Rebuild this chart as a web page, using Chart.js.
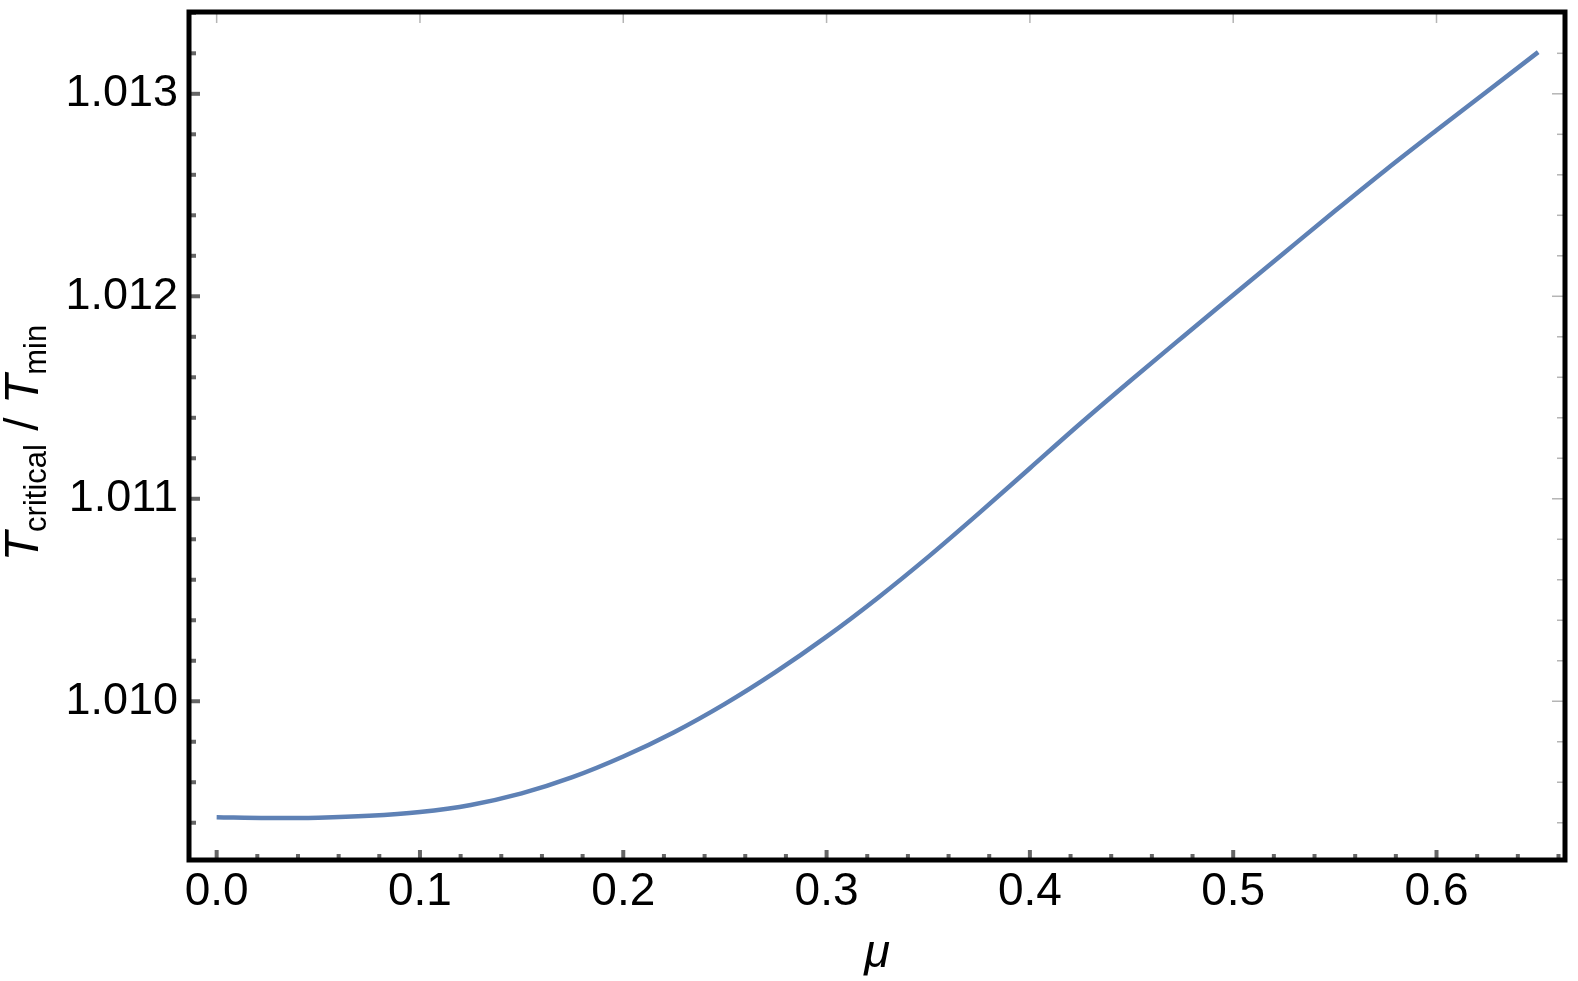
<!DOCTYPE html>
<html>
<head>
<meta charset="utf-8">
<script src="https://cdn.jsdelivr.net/npm/chart.js@4.4.1/dist/chart.umd.min.js"></script>
<style>
html,body{margin:0;padding:0;background:#fff;overflow:hidden}
#c{display:block}
</style>
</head>
<body>
<canvas id="c" width="1578" height="981"></canvas>
<script>
// ---- data ----
const mu = [0.000, 0.025, 0.050, 0.075, 0.100, 0.125, 0.150, 0.175, 0.200, 0.225,
            0.250, 0.275, 0.300, 0.325, 0.350, 0.375, 0.400, 0.425, 0.450, 0.475,
            0.500, 0.525, 0.550, 0.575, 0.600, 0.625, 0.650];
const tRatio = [1.009427, 1.009423, 1.009425, 1.009434, 1.009453, 1.009488, 1.009545, 1.009625, 1.009727, 1.009847,
                1.009987, 1.010145, 1.010319, 1.010509, 1.010713, 1.010929, 1.011151, 1.011373, 1.011588, 1.011798,
                1.012006, 1.012214, 1.012421, 1.012624, 1.012820, 1.013013, 1.013206];
const xTickLabels = ['0.0', '0.1', '0.2', '0.3', '0.4', '0.5', '0.6'];
const yTickLabels = ['1.010', '1.011', '1.012', '1.013'];
const xTitle = 'μ';
const yTitleParts = ['T', 'critical', ' / ', 'T', 'min'];

const LINE_COLOR = '#5E81B5';
const FONT = "'Liberation Sans', Arial, Helvetica, sans-serif";

function isMajorX(v) { return Math.round(v * 100) % 10 === 0; }
function isMajorY(v) { return Math.round(v * 10000) % 10 === 0; }

const framePlugin = {
  id: 'frame',
  afterDatasetsDraw(chart) {
    const { ctx, chartArea: a, scales: { x, y } } = chart;
    ctx.save();
    x.ticks.forEach(t => {
      const px = x.getPixelForValue(t.value);
      const major = isMajorX(t.value);
      const len = major ? 10 : 6;
      ctx.fillStyle = '#666666';
      ctx.fillRect(px - 2, a.bottom - len, 4, len);
      if (major) {
        ctx.fillStyle = '#b5b5b5';
        ctx.fillRect(px - 0.75, a.top, 1.5, 11);
      }
    });
    y.ticks.forEach(t => {
      const py = y.getPixelForValue(t.value);
      const major = isMajorY(t.value);
      ctx.fillStyle = '#666666';
      ctx.fillRect(a.left, py - 2, major ? 11 : 7, 4);
      ctx.fillStyle = '#b5b5b5';
      const rl = major ? 13 : 8;
      ctx.fillRect(a.right - rl, py - 0.75, rl, 1.5);
    });
    ctx.strokeStyle = '#000';
    ctx.lineWidth = 5;
    ctx.strokeRect(a.left, a.top, a.right - a.left, a.bottom - a.top);
    ctx.restore();
  },
  afterDraw(chart) {
    const { ctx, chartArea: a } = chart;
    ctx.save();
    ctx.fillStyle = '#000';
    ctx.font = 'italic 47px ' + FONT;
    ctx.textAlign = 'center';
    ctx.textBaseline = 'alphabetic';
    ctx.fillText(xTitle, (a.left + a.right) / 2, 967);
    const big = 'italic 48px ' + FONT;
    const reg = '48px ' + FONT;
    const sub = '31px ' + FONT;
    const fonts = [big, sub, reg, big, sub];
    const shifts = [0, 8, 0, 0, 8];
    const widths = yTitleParts.map((s, i) => { ctx.font = fonts[i]; return ctx.measureText(s).width; });
    const total = widths.reduce((p, c) => p + c, 0);
    const cy = 443;
    ctx.translate(38, cy);
    ctx.rotate(-Math.PI / 2);
    ctx.textAlign = 'left';
    let xx = -total / 2;
    yTitleParts.forEach((s, i) => {
      ctx.font = fonts[i];
      ctx.fillText(s, xx, shifts[i]);
      xx += widths[i];
    });
    ctx.restore();
  }
};

new Chart(document.getElementById('c'), {
  type: 'line',
  data: {
    datasets: [{
      data: mu.map((m, i) => ({ x: m, y: tRatio[i] })),
      borderColor: LINE_COLOR,
      borderWidth: 4.5,
      pointRadius: 0,
      fill: false,
      cubicInterpolationMode: 'monotone',
      borderCapStyle: 'butt'
    }]
  },
  options: {
    responsive: false,
    devicePixelRatio: 1,
    animation: false,
    layout: { padding: { left: 0, top: 12, right: 13, bottom: 0 } },
    plugins: { legend: { display: false }, tooltip: { enabled: false }, title: { display: false } },
    scales: {
      x: {
        type: 'linear',
        min: -0.0136,
        max: 0.6632,
        grid: { display: false, drawTicks: false },
        border: { display: false },
        ticks: {
          stepSize: 0.02,
          autoSkip: false,
          includeBounds: false,
          maxRotation: 0,
          padding: 5,
          color: '#000',
          font: { family: FONT, size: 46 },
          callback: (v) => {
            const k = Math.round(v * 100);
            if (k % 10 !== 0) return '';
            const s = xTickLabels[k / 10];
            return s === undefined ? '' : s;
          }
        },
        afterFit: (s) => { s.height = 121; s.paddingLeft = 0; s.paddingRight = 0; }
      },
      y: {
        type: 'linear',
        min: 1.009216,
        max: 1.013404,
        grid: { display: false, drawTicks: false },
        border: { display: false },
        ticks: {
          stepSize: 0.0002,
          autoSkip: false,
          includeBounds: false,
          padding: 11,
          color: '#000',
          font: { family: FONT, size: 45 },
          callback: (v) => {
            const k = Math.round(v * 10000);
            if (k % 10 !== 0) return '';
            const s = yTickLabels[(k - 10100) / 10];
            return s === undefined ? '' : s;
          }
        },
        afterFit: (s) => { s.width = 189; s.paddingTop = 0; s.paddingBottom = 0; }
      }
    }
  },
  plugins: [framePlugin]
});
</script>
</body>
</html>
